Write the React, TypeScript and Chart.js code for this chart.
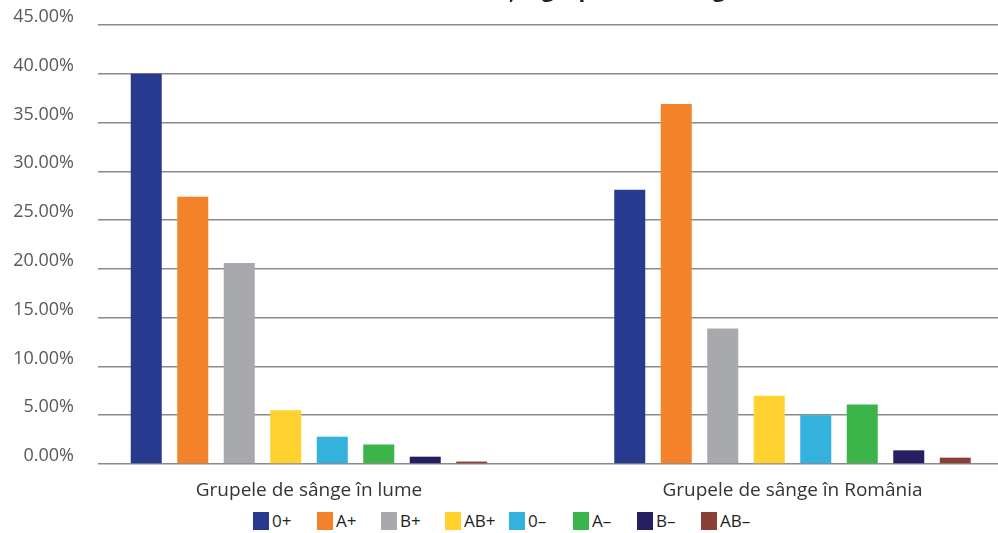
import React, { useEffect, useRef } from "react";
import { Chart, registerables } from "chart.js";

Chart.register(...registerables);

const chartTitle = "Distribuția grupelor de sânge";
const categories = ["Grupele de sânge în lume", "Grupele de sânge în România"];
const bloodGroups = ["0+", "A+", "B+", "AB+", "0–", "A–", "B–", "AB–"];
const worldValues = [40.0, 27.4, 20.6, 5.5, 2.8, 2.0, 0.75, 0.25];
const romaniaValues = [28.1, 36.9, 13.9, 7.0, 5.0, 6.1, 1.4, 0.65];
const groupColors = ["#283a90", "#f4822a", "#a7a9ac", "#ffd22f", "#33b2dd", "#3bb54a", "#241f62", "#8b4035"];
const yMax = 45;
const yStep = 5;

const FONT = "'Open Sans', 'Noto Sans', sans-serif";
const CANVAS_W = 1156;
const CANVAS_H = 545;
const TOP_SHIFT = 40;
const PLOT_LEFT = 98;
const GROUP_PX = 483.5;
const FIRST_CENTER = 309;
const X_MIN = -(FIRST_CENTER - PLOT_LEFT) / GROUP_PX;
const X_MAX = X_MIN + (CANVAS_W - PLOT_LEFT) / GROUP_PX;

export default function App() {
  const canvasRef = useRef<HTMLCanvasElement | null>(null);

  useEffect(() => {
    if (!canvasRef.current) return;
    const datasets = bloodGroups.map((label, i) => ({
      label,
      data: [
        { x: 0, y: worldValues[i] },
        { x: 1, y: romaniaValues[i] },
      ],
      backgroundColor: groupColors[i],
      borderWidth: 0,
    }));

    const chart = new Chart(canvasRef.current, {
      type: "bar",
      data: { datasets },
      options: {
        animation: false,
        responsive: false,
        devicePixelRatio: 1,
        layout: { padding: 0 },
        datasets: {
          bar: { categoryPercentage: 0.7694, barPercentage: 0.667 },
        },
        plugins: {
          legend: { display: false },
          tooltip: { enabled: false },
          title: {
            display: true,
            text: chartTitle,
            color: "#231f20",
            font: { family: FONT, size: 22, weight: "bold" },
            padding: { top: 18, bottom: 20.6 },
          },
        },
        scales: {
          x: {
            type: "linear",
            min: X_MIN,
            max: X_MAX,
            offset: false,
            grid: { display: false, offset: false },
            border: { display: false },
            afterBuildTicks: (s: any) => {
              s.ticks = categories.map((_, i) => ({ value: i }));
            },
            afterFit: (s: any) => {
              s.height = 41;
            },
            ticks: {
              autoSkip: false,
              maxRotation: 0,
              padding: 7,
              color: "#333333",
              font: { family: FONT, size: 19 },
              callback: (v: any) => categories[v as number] ?? "",
            },
          },
          y: {
            min: 0,
            max: yMax,
            afterFit: (s: any) => {
              s.width = PLOT_LEFT;
            },
            grid: { color: "#8a8a8a", lineWidth: 1.5, drawTicks: false },
            border: { display: false },
            ticks: {
              stepSize: yStep,
              padding: 24,
              labelOffset: -8,
              color: "#58595b",
              font: { family: FONT, size: 18 },
              callback: (v: any) => Number(v).toFixed(2) + "%",
            },
          },
        },
      },
    });
    return () => chart.destroy();
  }, []);

  return (
    <div
      style={{
        position: "fixed",
        left: 0,
        top: 0,
        width: 998,
        height: 533,
        overflow: "hidden",
        background: "#ffffff",
      }}
    >
      <div style={{ position: "absolute", left: 0, top: -TOP_SHIFT, width: CANVAS_W, height: CANVAS_H }}>
        <canvas ref={canvasRef} width={CANVAS_W} height={CANVAS_H} style={{ display: "block" }} />
      </div>
      <div
        style={{
          position: "absolute",
          left: 253,
          top: 512,
          display: "flex",
          fontFamily: FONT,
          fontSize: 17,
          color: "#231f20",
        }}
      >
        {bloodGroups.map((g, i) => (
          <div key={g} style={{ width: 64, display: "flex", alignItems: "center" }}>
            <span style={{ display: "inline-block", width: 16, height: 18, background: groupColors[i], marginRight: 3 }} />
            <span style={{ lineHeight: "18px" }}>{g}</span>
          </div>
        ))}
      </div>
    </div>
  );
}
